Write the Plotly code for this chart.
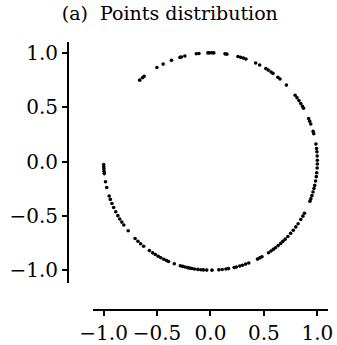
import numpy as np
import plotly.graph_objects as go

# angular positions (degrees) of the points
angles_deg = [
    131.5, 129.6, 128.4, 120.1, 116.3, 111.4, 106.6, 105.8, 103.9, 97.6, 96.2,
    91.4, 90.5, 89.3, 88.2, 82.2, 81.2, 75.1, 73.6, 72.1, 70.6, 65.0, 62.6,
    58.8, 57.3, 55.5, 54.2, 50.9, 49.4, 44.7, 37.6, 35.9, 34.1, 32.3, 30.6,
    29.4, 23.3, 21.8, 20.2, 16.1, 14.8, 9.3, 6.9, 5.1, 2.9, 0.7, -1.3, -3.4,
    -5.9, -8.0, -10.3, -12.7, -14.4, -16.3, -18.3, -20.1, -21.4, -28.4, -30.2,
    -32.3, -34.9, -37.0, -39.2, -41.4, -43.6, -45.6, -47.3, -48.9, -50.7,
    -52.5, -54.0, -55.5, -57.1, -61.2, -62.5, -63.9, -69.0, -70.8, -72.6,
    -74.1, -76.0, -77.2, -80.3, -81.7, -83.7, -85.5, -89.2, -92.0, -93.8,
    -95.2, -96.8, -98.6, -100.0, -101.1, -102.3, -103.8, -105.1, -106.4,
    -109.8, -113.1, -114.3, -115.9, -117.7, -119.3, -121.1, -122.8, -124.9,
    -128.7, -130.8, -132.8, -134.9, -140.4, -144.2, -146.1, -148.1, -150.1,
    -152.5, -155.0, -157.3, -159.6, -161.5, -166.2, -169.3, -173.6, -174.8,
    -176.1, -177.2, -178.4,
]
tick_vals = [-1.0, -0.5, 0.0, 0.5, 1.0]
tick_text = ["\u22121.0", "\u22120.5", "0.0", "0.5", "1.0"]
title_text = "(a)\u00a0\u00a0Points distribution"

theta = np.radians(angles_deg)
xs = np.cos(theta)
ys = np.sin(theta)

fig = go.Figure()
fig.add_trace(
    go.Scatter(
        x=xs,
        y=ys,
        mode="markers",
        marker=dict(color="black", size=3.6, line=dict(width=0)),
        showlegend=False,
        cliponaxis=False,
        hoverinfo="skip",
    )
)

axis_common = dict(
    showgrid=False,
    zeroline=False,
    showline=True,
    linecolor="black",
    linewidth=2,
    ticks="outside",
    ticklen=5,
    tickwidth=1.5,
    tickcolor="black",
    tickvals=tick_vals,
    ticktext=tick_text,
    tickfont=dict(family="DejaVu Serif", size=20, color="black"),
    anchor="free",
    position=0,
    automargin=False,
    ticklabeloverflow="allow",
)

fig.update_layout(
    width=337,
    height=345,
    margin=dict(l=68, r=9, t=42, b=35, autoexpand=False),
    paper_bgcolor="white",
    plot_bgcolor="white",
    title=dict(
        text=title_text,
        x=0.504,
        xref="container",
        xanchor="center",
        y=0.982,
        yref="container",
        yanchor="top",
        font=dict(family="DejaVu Serif", size=19, color="black"),
    ),
    xaxis=dict(axis_common, domain=[0.096, 1], range=[-1.1, 1.1]),
    yaxis=dict(axis_common, domain=[0.1, 1], range=[-1.12, 1.1]),
)

# drop the default page margin so the figure sits at the window's corner
fig.write_html(
    "out.html",
    config={"displayModeBar": False},
    post_script="document.body.style.margin='0';document.body.style.overflow='hidden';",
)
